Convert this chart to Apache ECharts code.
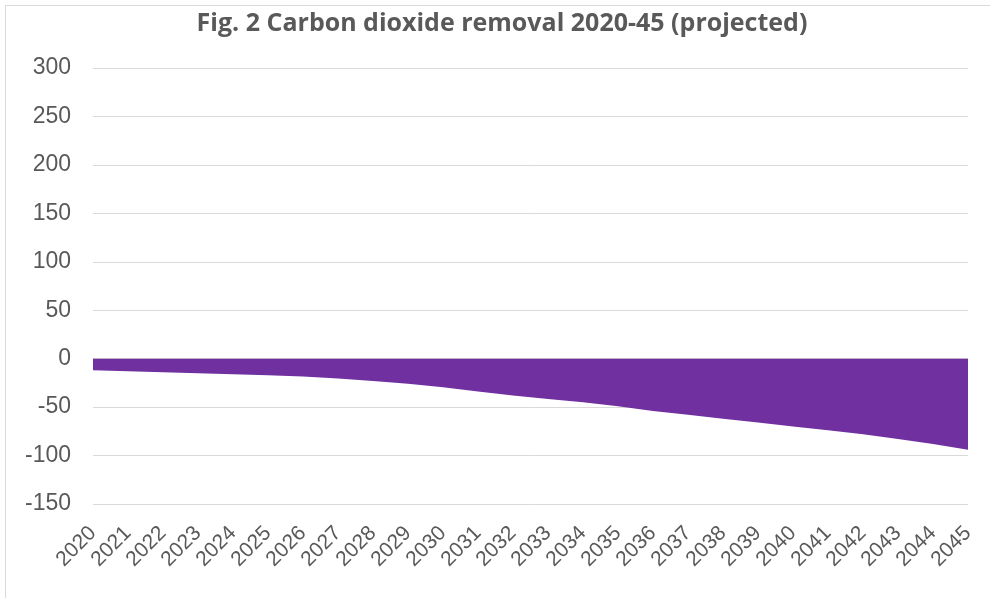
<!DOCTYPE html>
<html>
<head>
<meta charset="utf-8">
<script src="https://cdn.jsdelivr.net/npm/echarts@6/dist/echarts.min.js"></script>
<style>
html,body{margin:0;padding:0;background:#fff;}
#c{width:990px;height:598px;}
</style>
</head>
<body>
<div id="c"></div>
<script>
const years = ['2020','2021','2022','2023','2024','2025','2026','2027','2028','2029','2030','2031','2032','2033','2034','2035','2036','2037','2038','2039','2040','2041','2042','2043','2044','2045'];
const removal = [-12,-13,-14,-15,-16,-17,-18.5,-20.5,-23,-26,-29.5,-34,-38,-41.5,-45,-49,-54,-58,-62,-66,-70,-74,-78,-83,-88,-94];
const yTicks = {min:-150, max:300, interval:50};

const chart = echarts.init(document.getElementById('c'), null, {renderer:'canvas'});
chart.setOption({
  animation:false,
  backgroundColor:'#fff',
  title:{
    text:'Fig. 2 Carbon dioxide removal 2020-45 (projected)',
    left:497, textAlign:'center', top:6,
    textStyle:{fontFamily:'Open Sans', fontWeight:'bold', fontSize:25, color:'#595959'}
  },
  graphic:[{type:'rect', shape:{x:5.5,y:5.5,width:1100,height:700}, style:{fill:'none', stroke:'#d9d9d9', lineWidth:1}, silent:true}],
  grid:{left:93, right:22, top:68, bottom:94},
  xAxis:{
    type:'category', data:years, boundaryGap:false,
    axisLine:{show:false}, axisTick:{show:false},
    axisLabel:{rotate:45, margin:26, interval:0, fontFamily:'Liberation Sans', fontSize:21, color:'#595959'},
    splitLine:{show:false}
  },
  yAxis:{
    type:'value', min:yTicks.min, max:yTicks.max, interval:yTicks.interval,
    axisLine:{show:false}, axisTick:{show:false},
    axisLabel:{margin:22, fontFamily:'Liberation Sans', fontSize:23, color:'#595959'},
    splitLine:{lineStyle:{color:'#d9d9d9', width:1}}
  },
  series:[{
    type:'line', data:removal, symbol:'none', smooth:false,
    lineStyle:{width:0, color:'#7030a0'},
    areaStyle:{color:'#7030a0', opacity:1, origin:0}
  }]
});
</script>
</body>
</html>
